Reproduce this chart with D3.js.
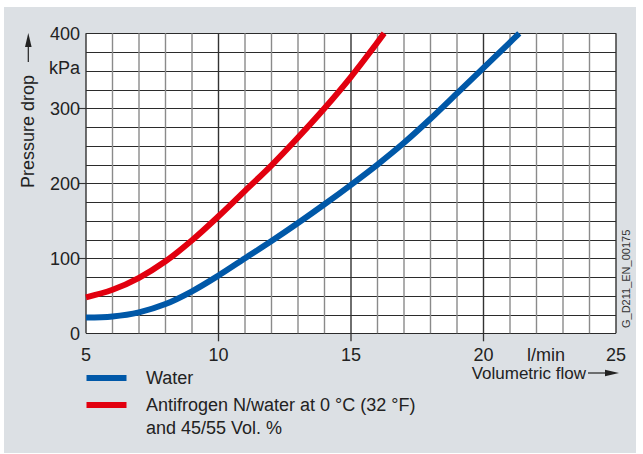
<!DOCTYPE html>
<html><head><meta charset="utf-8">
<script src="https://cdn.jsdelivr.net/npm/d3@7"></script>
<style>html,body{margin:0;padding:0;background:#fff;}svg{display:block;font-family:"Liberation Sans",Arial,Helvetica,sans-serif;}</style>
</head><body>
<svg id="c" width="643" height="454"></svg>
<script>
// ---- data ----
const waterFlow = [5,6,7,8,9,10,11,12,13,14,15,16,17,18,19,20,21,21.35];
const waterDrop = [21,22.5,28,39,56,77,100,123,147,172,198,225,254,286,320,354,388,400];
const antiFlow  = [5,6,7,8,9,10,11,12,13,14,15,16,16.25];
const antiDrop  = [48,58,74,96,124,156,190,224,261,300,342,388,400];
const xTickLabels = ["5","10","15","20","25"];
const xTickValues = [5,10,15,20,25];
const yTickValues = [0,100,200,300,400];
const seriesNames = ["Water","Antifrogen N/water at 0 °C (32 °F)","and 45/55 Vol. %"];
const seriesColors = ["#0058a8","#e2000f"];

const svg = d3.select("#c");
svg.append("rect").attr("x",4).attr("y",7).attr("width",632).attr("height",446).attr("fill","#dce0e4");

const x = d3.scaleLinear().domain([5,25]).range([86,616]);
const y = d3.scaleLinear().domain([0,400]).range([333.3,33.3]);

// plot background
svg.append("rect").attr("x",x(5)).attr("y",y(400)).attr("width",x(25)-x(5)).attr("height",y(0)-y(400)).attr("fill","#fff");

// grid
const vGrid = d3.range(5,26,1);
const hGrid = d3.range(0,401,25);
svg.append("g").selectAll("line").data(hGrid).join("line")
  .attr("x1",x(5)).attr("x2",x(25)).attr("y1",d=>Math.round(y(d))+0.5).attr("y2",d=>Math.round(y(d))+0.5)
  .attr("stroke","#2b2b2b").attr("stroke-width",1.1);
svg.append("g").selectAll("line").data(vGrid).join("line")
  .attr("x1",d=>x(d)).attr("x2",d=>x(d)).attr("y1",y(400)).attr("y2",y(0))
  .attr("stroke",d=>(d%5===0)?"#333":"#8a8a8a").attr("stroke-width",1.4);

// ticks outside
svg.append("g").selectAll("line").data([100,200,300]).join("line")
  .attr("x1",x(5)-8).attr("x2",x(5)).attr("y1",d=>Math.round(y(d))+0.5).attr("y2",d=>Math.round(y(d))+0.5)
  .attr("stroke","#333").attr("stroke-width",1.1);
svg.append("g").selectAll("line").data([10,15,20]).join("line")
  .attr("x1",d=>x(d)).attr("x2",d=>x(d)).attr("y1",y(0)).attr("y2",y(0)+8)
  .attr("stroke","#333").attr("stroke-width",1.3);

// tick labels
svg.append("g").selectAll("text").data(yTickValues).join("text")
  .attr("x",80).attr("y",d=>y(d)+6.5).attr("text-anchor","end")
  .attr("font-size",18).attr("fill","#222").text(d=>d);
svg.append("text").attr("x",80).attr("y",y(350)+3.5).attr("text-anchor","end")
  .attr("font-size",18).attr("fill","#222").text("kPa");
svg.append("g").selectAll("text").data(xTickValues).join("text")
  .attr("x",d=>x(d)).attr("y",361).attr("text-anchor","middle")
  .attr("font-size",18).attr("fill","#222").text((d,i)=>xTickLabels[i]);
svg.append("text").attr("x",546).attr("y",361).attr("text-anchor","middle")
  .attr("font-size",18).attr("fill","#222").text("l/min");

// axis titles
svg.append("text").attr("transform","translate(33.5,188) rotate(-90)")
  .attr("font-size",18).attr("fill","#222").text("Pressure drop");
svg.append("line").attr("x1",28.3).attr("x2",28.3).attr("y1",62).attr("y2",45).attr("stroke","#222").attr("stroke-width",1.2);
svg.append("path").attr("d","M28.3,33 L25,47 L31.6,47 Z").attr("fill","#222");

svg.append("text").attr("x",586).attr("y",379).attr("text-anchor","end")
  .attr("font-size",17).attr("fill","#222").text("Volumetric flow");
svg.append("line").attr("x1",588).attr("x2",606).attr("y1",373).attr("y2",373).attr("stroke","#222").attr("stroke-width",1.2);
svg.append("path").attr("d","M619,373 L605,369.7 L605,376.3 Z").attr("fill","#222");

svg.append("text").attr("transform","translate(630,328) rotate(-90)")
  .attr("font-size",11).attr("fill","#333").text("G_D211_EN_00175");

// curves
const line = d3.line().x(d=>x(d[0])).y(d=>y(d[1])).curve(d3.curveCatmullRom.alpha(0.5));
const water = waterFlow.map((f,i)=>[f,waterDrop[i]]);
const anti = antiFlow.map((f,i)=>[f,antiDrop[i]]);
svg.append("path").datum(water).attr("d",line).attr("fill","none").attr("stroke",seriesColors[0]).attr("stroke-width",6);
svg.append("path").datum(anti).attr("d",line).attr("fill","none").attr("stroke",seriesColors[1]).attr("stroke-width",6);

// legend
svg.append("line").attr("x1",86.5).attr("x2",126.5).attr("y1",378).attr("y2",378).attr("stroke",seriesColors[0]).attr("stroke-width",6);
svg.append("line").attr("x1",86.5).attr("x2",126.5).attr("y1",405).attr("y2",405).attr("stroke",seriesColors[1]).attr("stroke-width",6);
svg.append("text").attr("x",146).attr("y",384).attr("font-size",18).attr("fill","#222").text(seriesNames[0]);
svg.append("text").attr("x",146).attr("y",410.7).attr("font-size",18).attr("fill","#222").text(seriesNames[1]);
svg.append("text").attr("x",146).attr("y",434).attr("font-size",18).attr("fill","#222").text(seriesNames[2]);
</script>
</body></html>
